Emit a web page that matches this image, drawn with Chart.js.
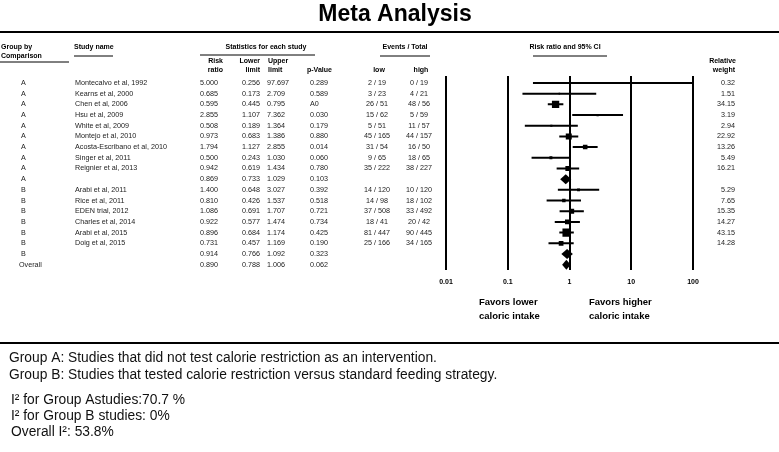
<!DOCTYPE html>
<html>
<head>
<meta charset="utf-8">
<script src="https://cdn.jsdelivr.net/npm/chart.js@4.4.1/dist/chart.umd.min.js"></script>
<style>
  html, body { margin: 0; padding: 0; background: #fff; }
  #wrap { width: 779px; height: 452px; }
</style>
</head>
<body>
<div id="wrap"><canvas id="chart"></canvas></div>
<script>
// rows, top to bottom (empty study name = summary row, drawn as a diamond)
var groups  = ['A','A','A','A','A','A','A','A','A','A','B','B','B','B','B','B','B','Overall'];
var studies = ['Montecalvo et al, 1992','Kearns et al, 2000','Chen et al, 2006','Hsu et al, 2009',
               'White et al, 2009','Montejo et al, 2010','Acosta-Escribano et al, 2010','Singer et al, 2011',
               'Reignier et al, 2013','','Arabi et al, 2011','Rice et al, 2011','EDEN trial, 2012',
               'Charles et al, 2014','Arabi et al, 2015','Doig et al, 2015','',''];
var riskRatio = [5.000,0.685,0.595,2.855,0.508,0.973,1.794,0.500,0.942,0.869,1.400,0.810,1.086,0.922,0.896,0.731,0.914,0.890];
var lowerLim  = [0.256,0.173,0.445,1.107,0.189,0.683,1.127,0.243,0.619,0.733,0.648,0.426,0.691,0.577,0.684,0.457,0.766,0.788];
var upperLim  = [97.697,2.709,0.795,7.362,1.364,1.386,2.855,1.030,1.434,1.029,3.027,1.537,1.707,1.474,1.174,1.169,1.092,1.006];
var pValues   = ['0.289','0.589','A0','0.030','0.179','0.880','0.014','0.060','0.780','0.103',
                 '0.392','0.518','0.721','0.734','0.425','0.190','0.323','0.062'];
var eventsLow  = ['2 / 19','3 / 23','26 / 51','15 / 62','5 / 51','45 / 165','31 / 54','9 / 65','35 / 222','',
                  '14 / 120','14 / 98','37 / 508','18 / 41','81 / 447','25 / 166','',''];
var eventsHigh = ['0 / 19','4 / 21','48 / 56','5 / 59','11 / 57','44 / 157','16 / 50','18 / 65','38 / 227','',
                  '10 / 120','18 / 102','33 / 492','20 / 42','90 / 445','34 / 165','',''];
var weights = ['0.32','1.51','34.15','3.19','2.94','22.92','13.26','5.49','16.21','',
               '5.29','7.65','15.35','14.27','43.15','14.28','',''];
var tickVals = [0.01, 0.1, 1, 10, 100];

var FONT = '"Liberation Sans", Arial, Helvetica, sans-serif';

var isStudy = function(i){ return studies[i] !== ''; };

// CI whiskers, one broken line
var ciData = [];
var sqData = [];
var sqRadius = [];
for (var i = 0; i < studies.length; i++) {
  if (!isStudy(i)) continue;
  ciData.push({x: lowerLim[i], y: i}, {x: upperLim[i], y: i}, {x: NaN, y: NaN});
  sqData.push({x: riskRatio[i], y: i});
  sqRadius.push(Math.max(0.5, 1.25 * Math.sqrt(parseFloat(weights[i])) / Math.SQRT2));
}

var tablePlugin = {
  id: 'table',
  afterDatasetsDraw: function(chart) {
    var ctx = chart.ctx, xs = chart.scales.x, ys = chart.scales.y;
    ctx.save();
    ctx.fillStyle = '#000';
    for (var i = 0; i < studies.length; i++) {
      if (isStudy(i)) continue;
      var y = ys.getPixelForValue(i);
      ctx.beginPath();
      ctx.moveTo(xs.getPixelForValue(lowerLim[i]) - 1, y);
      ctx.lineTo(xs.getPixelForValue(riskRatio[i]), y - 5);
      ctx.lineTo(xs.getPixelForValue(upperLim[i]) + 1, y);
      ctx.lineTo(xs.getPixelForValue(riskRatio[i]), y + 5);
      ctx.closePath();
      ctx.fill();
    }
    ctx.restore();
  },
  afterDraw: function(chart) {
    var ctx = chart.ctx, ys = chart.scales.y;
    var W = chart.width;
    ctx.save();
    ctx.textBaseline = 'middle';
    ctx.fillStyle = '#000';
    ctx.strokeStyle = '#000';

    function txt(s, x, y, align, font, color) {
      ctx.font = font;
      ctx.textAlign = align;
      ctx.fillStyle = color || '#000';
      ctx.fillText(s, x, y);
    }
    function hline(x1, x2, y, w) {
      ctx.lineWidth = w;
      ctx.beginPath();
      ctx.moveTo(x1, y);
      ctx.lineTo(x2, y);
      ctx.stroke();
    }

    // title
    txt('Meta Analysis', 395, 15, 'center', 'bold 23px ' + FONT);
    hline(0, W, 32, 2);

    // headers
    var hb = 'bold 7px ' + FONT;
    txt('Group by', 1, 47, 'left', hb);
    txt('Comparison', 1, 56, 'left', hb);
    hline(0, 69, 62, 1);
    txt('Study name', 74, 47, 'left', hb);
    hline(74, 113, 56, 1);
    txt('Statistics for each study', 266, 47, 'center', hb);
    hline(200, 315, 55, 1);
    txt('Risk', 223, 61, 'right', hb);
    txt('ratio', 223, 70, 'right', hb);
    txt('Lower', 260, 61, 'right', hb);
    txt('limit', 260, 70, 'right', hb);
    txt('Upper', 268, 61, 'left', hb);
    txt('limit', 268, 70, 'left', hb);
    txt('p-Value', 307, 70, 'left', hb);
    txt('Events / Total', 405, 47, 'center', hb);
    hline(380, 430, 56, 1);
    txt('low', 379, 70, 'center', hb);
    txt('high', 421, 70, 'center', hb);
    txt('Risk ratio and 95% CI', 565, 47, 'center', hb);
    hline(533, 607, 56, 1);
    txt('Relative', 736, 61, 'right', hb);
    txt('weight', 735, 70, 'right', hb);

    // rows
    var rf = '7.2px ' + FONT;
    var col = '#222';
    for (var i = 0; i < studies.length; i++) {
      var y = ys.getPixelForValue(i);
      txt(groups[i], groups[i] === 'Overall' ? 19 : 21, y, 'left', rf, col);
      txt(studies[i], 75, y, 'left', rf, col);
      txt(riskRatio[i].toFixed(3), 218, y, 'right', rf, col);
      txt(lowerLim[i].toFixed(3), 260, y, 'right', rf, col);
      txt(upperLim[i].toFixed(3), 267, y, 'left', rf, col);
      txt(pValues[i], 310, y, 'left', rf, col);
      txt(eventsLow[i], 377, y, 'center', rf, col);
      txt(eventsHigh[i], 419, y, 'center', rf, col);
      txt(weights[i], 735, y, 'right', rf, col);
    }

    // favours labels
    var fb = 'bold 9.5px ' + FONT;
    txt('Favors lower', 479, 302, 'left', fb);
    txt('caloric intake', 479, 316, 'left', fb);
    txt('Favors higher', 589, 302, 'left', fb);
    txt('caloric intake', 589, 316, 'left', fb);

    hline(0, W, 343, 2);

    // footnotes
    var nf = '13.8px ' + FONT;
    txt('Group A: Studies that did not test calorie restriction as an intervention.', 9, 358, 'left', nf, '#111');
    txt('Group B: Studies that tested calorie restriction versus standard feeding strategy.', 9, 375, 'left', nf, '#111');
    txt('I\u00b2 for Group Astudies:70.7 %', 11, 400, 'left', nf, '#111');
    txt('I\u00b2 for Group B studies: 0%', 11, 416, 'left', nf, '#111');
    txt('Overall I\u00b2: 53.8%', 11, 432, 'left', nf, '#111');
    ctx.restore();
  }
};

var canvas = document.getElementById('chart').getContext('2d');
window.forest = new Chart(canvas, {
  type: 'scatter',
  data: {
    datasets: [{
      type: 'scatter',
      data: sqData,
      pointStyle: 'rect',
      pointRadius: sqRadius,
      backgroundColor: '#000',
      borderWidth: 0
    }, {
      type: 'line',
      data: ciData,
      borderColor: '#000',
      borderWidth: 2,
      pointRadius: 0,
      spanGaps: false,
      fill: false
    }]
  },
  options: {
    responsive: true,
    maintainAspectRatio: false,
    animation: false,
    layout: { padding: { left: 446, right: 86, top: 76, bottom: 158 } },
    plugins: { legend: { display: false }, tooltip: { enabled: false } },
    scales: {
      x: {
        type: 'logarithmic',
        min: 0.01,
        max: 100,
        afterBuildTicks: function(s) { s.ticks = tickVals.map(function(v){ return {value: v}; }); },
        ticks: {
          color: '#000',
          font: { family: FONT, size: 7, weight: 'bold' },
          padding: 8,
          maxRotation: 0,
          callback: function(v) { return String(v); }
        },
        grid: { color: '#000', lineWidth: 2, drawTicks: false },
        border: { display: false }
      },
      y: {
        type: 'linear',
        min: -0.65,
        max: 17.46,
        reverse: true,
        display: false
      }
    }
  },
  plugins: [tablePlugin]
});
</script>
</body>
</html>
